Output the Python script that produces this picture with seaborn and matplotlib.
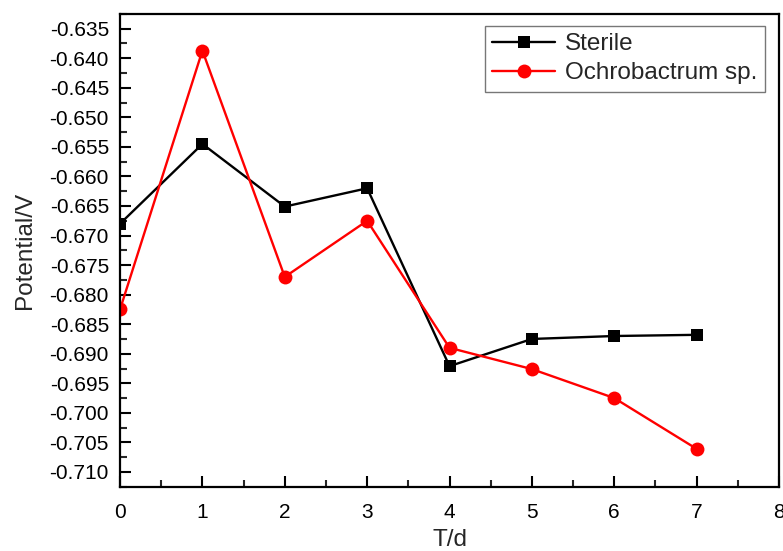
import matplotlib
matplotlib.use("Agg")
import matplotlib.pyplot as plt
import seaborn as sns
import pandas as pd
from matplotlib.ticker import MultipleLocator

days = [0, 1, 2, 3, 4, 5, 6, 7]
sterile = [-0.6680, -0.6545, -0.6651, -0.6620, -0.6921, -0.6875, -0.6870, -0.6868]
ochro = [-0.6825, -0.6387, -0.6770, -0.6675, -0.6890, -0.6926, -0.6975, -0.7061]
series_names = ["Sterile", "Ochrobactrum sp."]

sns.set_style("ticks")
plt.rcParams['font.family'] = ['Liberation Sans', 'DejaVu Sans']

fig = plt.figure(figsize=(7.83, 5.51), dpi=100)
ax = fig.add_axes([0.1533, 0.1167, 0.8416, 0.858])

df1 = pd.DataFrame({"T": days, "V": sterile})
df2 = pd.DataFrame({"T": days, "V": ochro})
sns.lineplot(data=df1, x="T", y="V", ax=ax, color="black", marker="s",
             markersize=8.5, markeredgewidth=0, linewidth=1.7, label=series_names[0])
sns.lineplot(data=df2, x="T", y="V", ax=ax, color="red", marker="o",
             markersize=10, markeredgewidth=0, linewidth=1.7, label=series_names[1])

ax.set_xlim(0, 8)
ax.set_ylim(-0.7125, -0.6325)
ax.xaxis.set_major_locator(MultipleLocator(1))
ax.xaxis.set_minor_locator(MultipleLocator(0.5))
ax.yaxis.set_major_locator(MultipleLocator(0.005))
ax.yaxis.set_minor_locator(MultipleLocator(0.0025))
ax.yaxis.set_major_formatter(matplotlib.ticker.FormatStrFormatter('%.3f'))

ax.tick_params(axis='both', which='major', direction='in', length=8, width=1.5,
               labelsize=15, colors='black')
ax.tick_params(axis='x', which='major', pad=12)
ax.tick_params(axis='y', which='major', pad=8)
ax.tick_params(axis='both', which='minor', direction='in', length=5, width=1.5)
ax.tick_params(top=False, right=False, which='both')
for s in ax.spines.values():
    s.set_linewidth(1.6)
    s.set_color('black')
    s.set_visible(True)

ax.set_xlabel("T/d", fontsize=17.5, labelpad=5)
ax.set_ylabel("Potential/V", fontsize=17.5, labelpad=10)

leg = ax.legend(loc='upper right', bbox_to_anchor=(0.978, 0.975), fontsize=17.5,
                frameon=True, fancybox=False, edgecolor='#555555', handlelength=2.6,
                borderpad=0.3, labelspacing=0.3, handletextpad=0.4, borderaxespad=0)
leg.get_frame().set_linewidth(1.0)

fig.savefig("out.png", dpi=100)
